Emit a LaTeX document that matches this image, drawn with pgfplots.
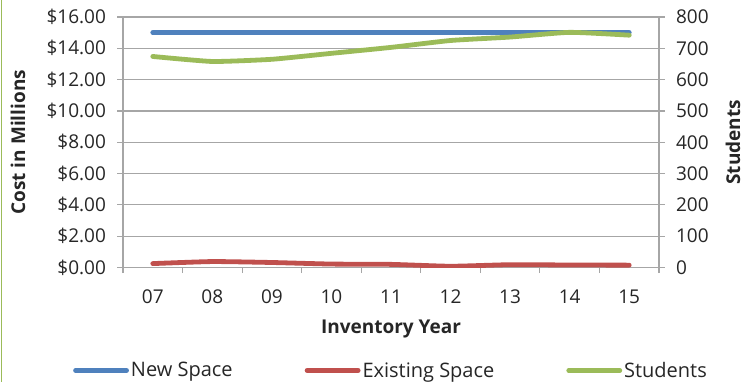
\documentclass[border=0pt]{standalone}
\usepackage{fontspec}
\setmainfont{Open Sans}
\usepackage{pgfplots}
\pgfplotsset{compat=1.18}
\definecolor{cblue}{HTML}{4F81BD}
\definecolor{cred}{HTML}{C0504D}
\definecolor{cgreen}{HTML}{9BBB59}
\definecolor{gridc}{HTML}{A6A6A6}
\definecolor{txt}{HTML}{262626}
\begin{document}
\begin{tikzpicture}[x=1pt,y=1pt]
\pgfplotsset{
  common/.style={
    at={(0,0)}, anchor=south west,
    scale only axis, width=536pt, height=250.5pt,
    xmin=0.5, xmax=9.5,
    font=\fontsize{19}{22}\selectfont\color{txt},
    /pgf/number format/assume math mode=true,
    axis line style={gridc, line width=1.2pt},
    every tick/.style={gridc, line width=1.2pt},
    tick align=outside,
    major tick length=5.5pt,
    minor tick length=5.5pt,
  }
}
\begin{axis}[common,
  ymin=0, ymax=16, ytick={0,2,...,16},
  axis x line*=bottom, axis y line*=left,
  xtick={1,...,9},
  xticklabels={07,08,09,10,11,12,13,14,15},
  minor xtick={0.5,1.5,...,9.5},
  major x tick style={draw=none},
  ymajorgrids, grid style={gridc, line width=1.2pt},
  yticklabel={\$\pgfmathprintnumber[fixed,fixed zerofill,precision=2]{\tick}},
  yticklabel style={xshift=-8pt},
  xticklabel style={yshift=-13pt},
  ylabel={\bfseries Cost in Millions},
  ylabel style={at={(axis description cs:-0.1959,0.5)}, anchor=center},
  xlabel={\bfseries Inventory Year},
  xlabel style={at={(axis description cs:0.5,-0.2435)}, anchor=center},
]
\addplot[cblue, line width=4.8pt, line cap=round] coordinates {
(1,15) (2,15) (3,15) (4,15) (5,15) (6,15) (7,15) (8,15) (9,15)};
\addplot[cred, line width=4.8pt, line cap=round, smooth, tension=0.3] coordinates {
(1,0.25) (2,0.38) (3,0.32) (4,0.22) (5,0.20) (6,0.08) (7,0.18) (8,0.16) (9,0.15)};
\end{axis}
\begin{axis}[common,
  ymin=0, ymax=800, ytick={0,100,...,800},
  axis x line=none, axis y line*=right,
  yticklabel style={xshift=8pt},
  ylabel={\bfseries Students},
  ylabel style={at={(axis description cs:1.138,0.5)}, anchor=center},
  legend columns=3,
  legend style={at={(axis description cs:0.5,-0.411)}, anchor=center,
    draw=none, fill=none, font=\fontsize{20}{23}\selectfont\color{txt},
    /tikz/every even column/.append style={column sep=70pt}},
  legend cell align=left,
  legend image code/.code={\draw[#1, line cap=round] (0pt,0pt) -- (51pt,0pt);},
]
\addlegendimage{cblue, line width=4.8pt}
\addlegendentry{New Space}
\addlegendimage{cred, line width=4.8pt}
\addlegendentry{Existing Space}
\addplot[cgreen, line width=4.8pt, line cap=round, smooth, tension=0.3] coordinates {
(1,674) (2,658) (3,665) (4,684) (5,703) (6,725) (7,736) (8,751) (9,742)};
\addlegendentry{Students}
\end{axis}
\draw[cgreen, line width=1pt] (-121pt,-114pt) -- (-121pt,267pt);
\useasboundingbox (-123pt,-114pt) rectangle (631pt,267pt);
\end{tikzpicture}
\end{document}
